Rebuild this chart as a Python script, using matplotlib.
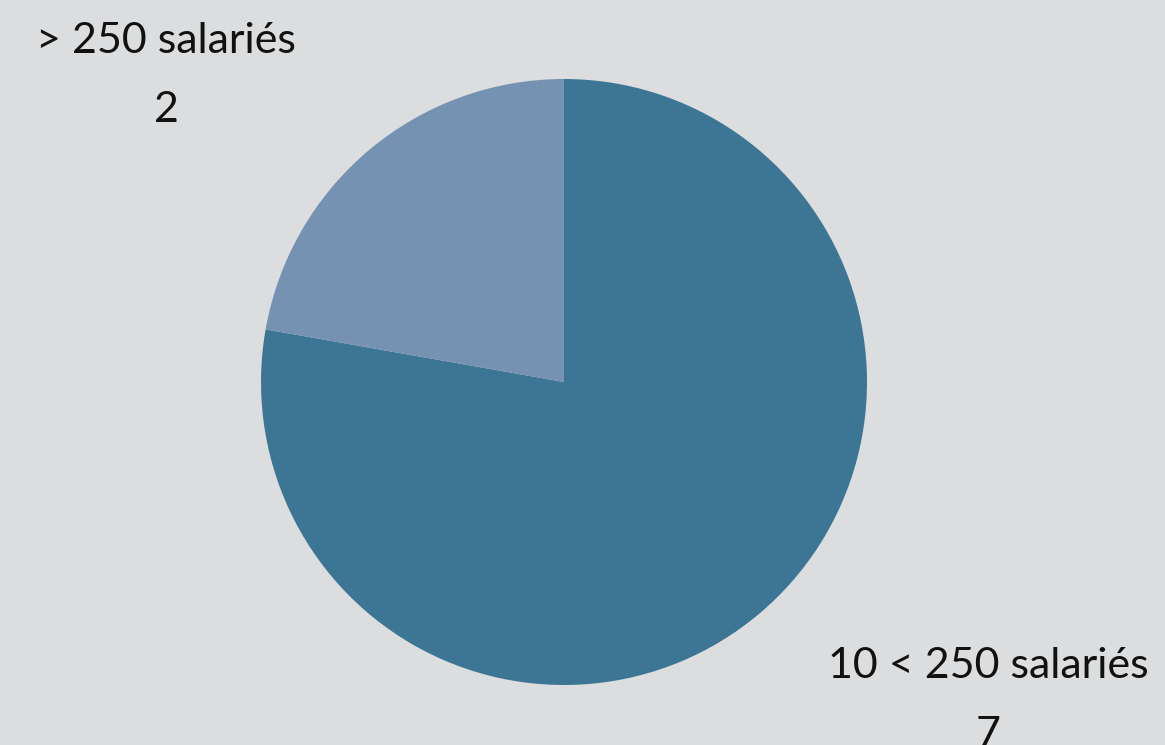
import matplotlib
matplotlib.use("Agg")
import matplotlib.pyplot as plt

categories = ["10 < 250 salariés", "> 250 salariés"]
values = [7, 2]
colors = ["#3d7694", "#7692b2"]

bg = "#dcdddf"
fig = plt.figure(figsize=(11.65, 7.45), dpi=100, facecolor=bg)
ax = fig.add_axes([0, 0, 1, 1])
ax.set_facecolor(bg)

ax.pie(values, colors=colors, startangle=90, counterclock=False,
       center=(564, 745 - 382), radius=303, frame=True,
       wedgeprops=dict(linewidth=0))
ax.set_xlim(0, 1165)
ax.set_ylim(0, 745)
ax.set_aspect("equal")
ax.axis("off")

font = dict(family=["Lato", "DejaVu Sans"], fontsize=31, color="#111111")
# label positions (pixel coords; y measured from bottom)
ax.text(166, 745 - 53, categories[1], ha="center", va="baseline", **font)
ax.text(166, 745 - 122, str(values[1]), ha="center", va="baseline", **font)
ax.text(988, 745 - 678, categories[0], ha="center", va="baseline", **font)
ax.text(988, 745 - 747, str(values[0]), ha="center", va="baseline", **font)

fig.savefig("out.png", dpi=100, facecolor=bg)
